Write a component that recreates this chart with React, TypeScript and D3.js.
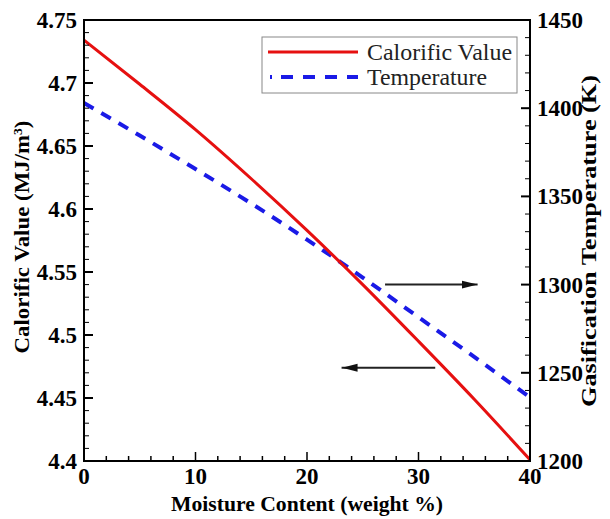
import React from "react";
import * as d3 from "d3";

const moisture = [0, 5, 10, 15, 20, 25, 30, 35, 40];
const calorific = [4.734, 4.699, 4.663, 4.624, 4.583, 4.54, 4.495, 4.449, 4.401];
const temperature = [1403, 1384.5, 1365.5, 1346, 1325.5, 1304, 1281.5, 1259, 1236];
const xTicks = [0, 10, 20, 30, 40];
const leftTicks = [4.4, 4.45, 4.5, 4.55, 4.6, 4.65, 4.7, 4.75];
const rightTicks = [1200, 1250, 1300, 1350, 1400, 1450];
const seriesNames = ["Calorific Value", "Temperature"];

const W = 610, H = 519;
const m = { left: 84, right: 530, top: 20, bottom: 461 };
const FONT = "Liberation Serif, Times New Roman, Tinos, Nimbus Roman, DejaVu Serif, serif";

export default function App() {
  const x = d3.scaleLinear().domain([0, 40]).range([m.left, m.right]);
  const yL = d3.scaleLinear().domain([4.4, 4.75]).range([m.bottom, m.top]);
  const yR = d3.scaleLinear().domain([1200, 1450]).range([m.bottom, m.top]);

  const redLine = d3.line<number>().x((_, i) => x(moisture[i])).y((d) => yL(d)).curve(d3.curveMonotoneX)(calorific)!;
  const blueLine = d3.line<number>().x((_, i) => x(moisture[i])).y((d) => yR(d)).curve(d3.curveMonotoneX)(temperature)!;

  const xMinor = d3.range(0, 40.01, 2);
  const lMinor = d3.range(4.4, 4.7501, 0.01);
  const rMinor = d3.range(1200, 1450.1, 10);
  const isMajor = (v: number, step: number) => Math.abs(v / step - Math.round(v / step)) < 1e-6;

  const tickStyle = { fontFamily: FONT, fontWeight: "bold" as const, fontSize: "23px" };
  const titleStyle = { fontFamily: FONT, fontWeight: "bold" as const, fontSize: "21px" };

  return (
    <svg width={W} height={H} style={{ position: "absolute", left: 0, top: 0, background: "#fff" }}>
      <defs>
        <marker id="ah" viewBox="0 0 16 10" refX="16" refY="5" markerWidth="16" markerHeight="10" markerUnits="userSpaceOnUse" orient="auto">
          <path d="M0,1 L16,5 L0,9 Z" fill="#111" />
        </marker>
      </defs>
      <rect x={0} y={0} width={W} height={H} fill="#fff" />
      <g>
        <path d={blueLine} fill="none" stroke="#1a1ae6" strokeWidth={4} strokeDasharray="11,9" />
        <path d={redLine} fill="none" stroke="#e61010" strokeWidth={3} />
      </g>
      {/* arrows */}
      <line x1={x(27)} x2={x(35.3)} y1={yR(1300)} y2={yR(1300)} stroke="#222" strokeWidth={2} markerEnd="url(#ah)" />
      <line x1={x(31.5)} x2={x(23.1)} y1={yL(4.474)} y2={yL(4.474)} stroke="#222" strokeWidth={2} markerEnd="url(#ah)" />

      {/* ticks */}
      {xMinor.map((v) => (
        <line key={"xm" + v} x1={x(v)} x2={x(v)} y1={m.bottom} y2={m.bottom - (isMajor(v, 10) ? 9 : 5)} stroke="#000" strokeWidth={1.5} />
      ))}
      {lMinor.map((v) => (
        <line key={"lm" + v} x1={m.left} x2={m.left + (isMajor(v, 0.05) ? 9 : 5)} y1={yL(v)} y2={yL(v)} stroke="#000" strokeWidth={isMajor(v, 0.05) ? 2 : 1} />
      ))}
      {rMinor.map((v) => (
        <line key={"rm" + v} x1={m.right} x2={m.right - (isMajor(v, 50) ? 9 : 5)} y1={yR(v)} y2={yR(v)} stroke="#000" strokeWidth={isMajor(v, 50) ? 2 : 1} />
      ))}
      {/* frame */}
      <rect x={m.left} y={m.top} width={m.right - m.left} height={m.bottom - m.top} fill="none" stroke="#000" strokeWidth={2} />

      {/* tick labels */}
      {xTicks.map((v) => (
        <text key={"xt" + v} x={x(v)} y={m.bottom + 23} textAnchor="middle" style={tickStyle}>{v}</text>
      ))}
      {leftTicks.map((v) => (
        <text key={"lt" + v} x={m.left - 7} y={yL(v)} dy="0.35em" textAnchor="end" style={tickStyle}>{String(v)}</text>
      ))}
      {rightTicks.map((v) => (
        <text key={"rt" + v} x={m.right + 7} y={yR(v)} dy="0.35em" textAnchor="start" style={tickStyle}>{v}</text>
      ))}

      {/* axis titles */}
      <text x={307} y={511} textAnchor="middle" textLength={272} lengthAdjust="spacingAndGlyphs" style={titleStyle}>Moisture Content (weight %)</text>
      <text transform={`translate(29, 237) rotate(-90)`} textAnchor="middle" textLength={233} lengthAdjust="spacingAndGlyphs" style={{ ...titleStyle, fontSize: "22px" }}>
        Calorific Value (MJ/m<tspan baselineShift="super" style={{ fontSize: "13px" }}>3</tspan>)
      </text>
      <text transform={`translate(596, 241) rotate(-90)`} textAnchor="middle" textLength={332} lengthAdjust="spacingAndGlyphs" style={{ ...titleStyle, fontSize: "22px" }}>
        Gasification Temperature (K)
      </text>

      {/* legend */}
      <rect x={262} y={37} width={255} height={56} fill="#fff" stroke="#888" strokeWidth={1} />
      <line x1={268} x2={358} y1={52} y2={52} stroke="#e61010" strokeWidth={3} />
      <line x1={270} x2={358} y1={77} y2={77} stroke="#1a1ae6" strokeWidth={4} strokeDasharray="2,9,12,10,12,10,12,10,12" />
      <text x={367} y={60} textLength={145} lengthAdjust="spacingAndGlyphs" style={{ fontFamily: FONT, fontSize: "23px" }} fill="#222">{seriesNames[0]}</text>
      <text x={367} y={85} textLength={120} lengthAdjust="spacingAndGlyphs" style={{ fontFamily: FONT, fontSize: "23px" }} fill="#222">{seriesNames[1]}</text>
    </svg>
  );
}
